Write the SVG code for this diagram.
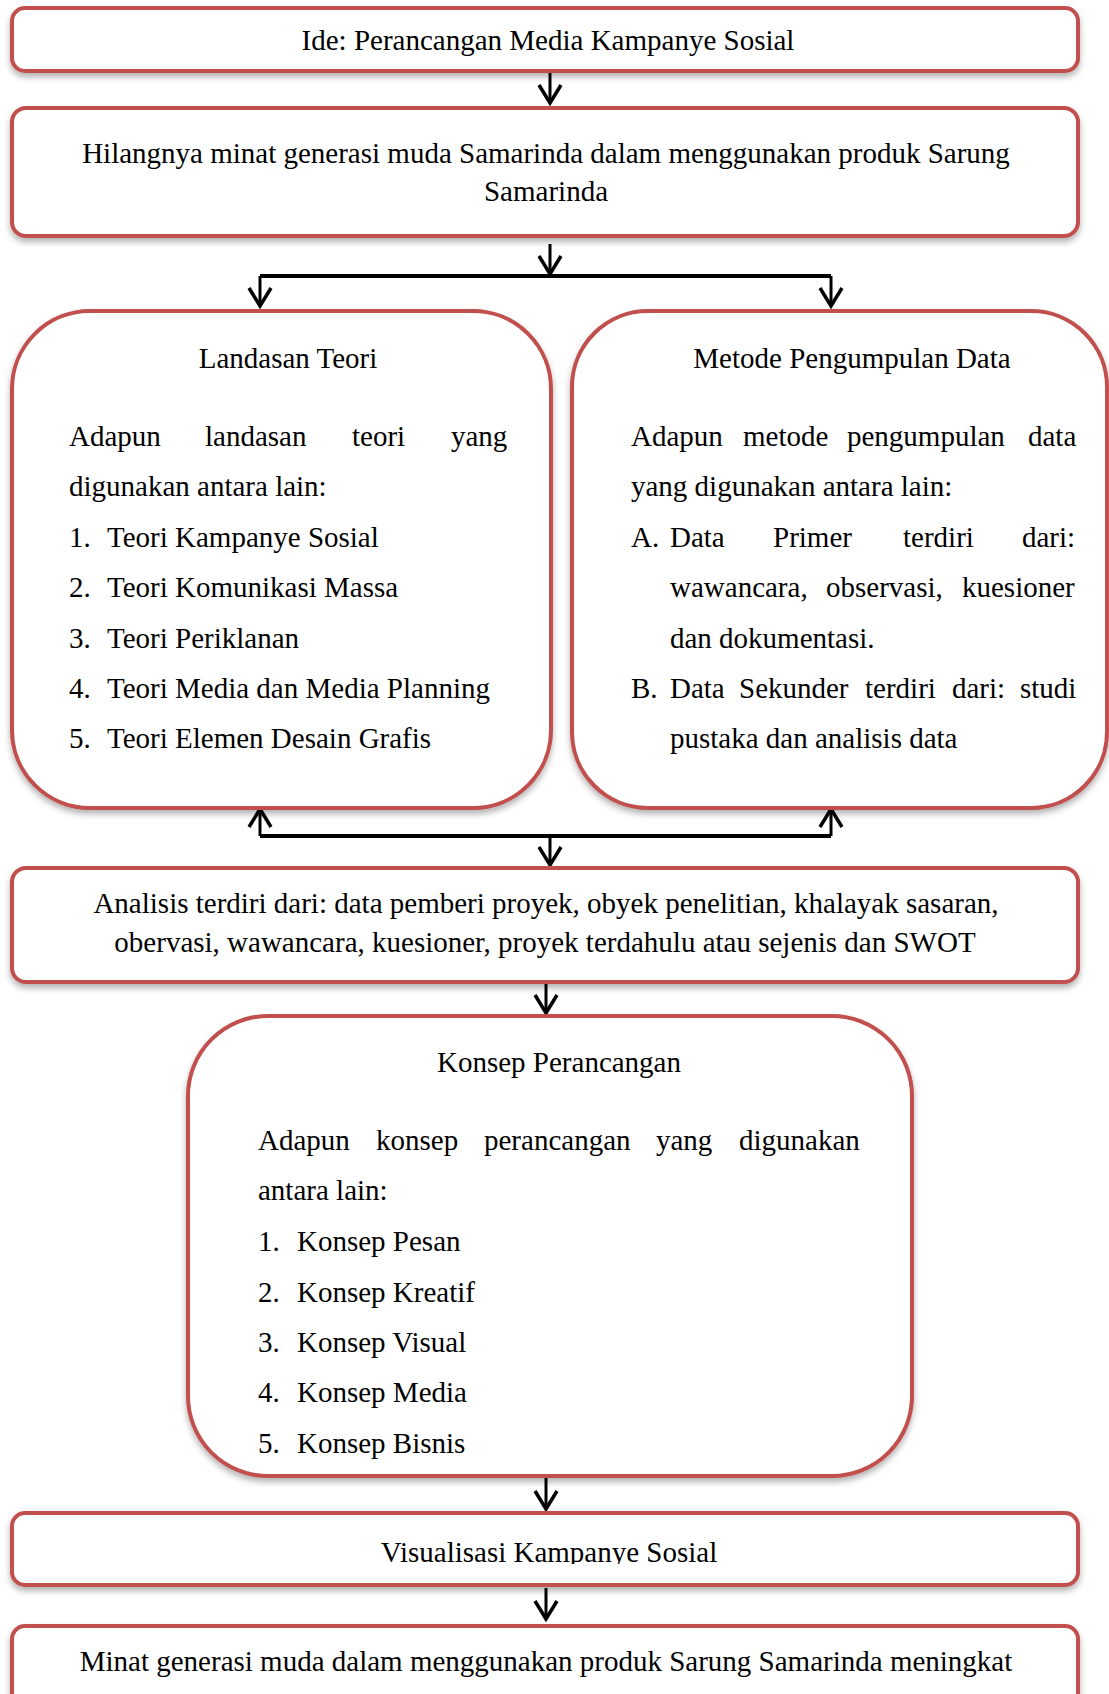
<svg xmlns="http://www.w3.org/2000/svg" width="1109" height="1694" viewBox="0 0 1109 1694">
<style>
.box{fill:#fff;stroke:#C0504D;stroke-width:4;filter:url(#sh)}
.t{font-family:"Liberation Serif","Times New Roman",serif;font-size:29px;fill:#000}
.c{text-anchor:middle}
.ln{fill:none;stroke:#000;stroke-width:3}
.bar{fill:none;stroke:#000;stroke-width:4}
</style>
<defs>
<filter id="sh" x="-5%" y="-10%" width="110%" height="130%">
<feDropShadow dx="0" dy="4" stdDeviation="3" flood-color="#000" flood-opacity="0.3"/>
</filter>
<marker id="ah" markerUnits="userSpaceOnUse" markerWidth="26" markerHeight="26" viewBox="0 0 26 26" refX="23" refY="13" orient="auto">
<path d="M5,2 L23,13 L5,24" fill="none" stroke="#000" stroke-width="3.5"/>
</marker>
<clipPath id="cv"><rect x="0" y="1500" width="1109" height="64"/></clipPath>
</defs>

<g id="connectors">
<line class="ln" x1="550" y1="72" x2="550" y2="103" marker-end="url(#ah)"/>
<line class="ln" x1="550" y1="244" x2="550" y2="274" marker-end="url(#ah)"/>
<path class="bar" d="M260,276 H831"/>
<line class="ln" x1="260" y1="276" x2="260" y2="306" marker-end="url(#ah)"/>
<line class="ln" x1="831" y1="276" x2="831" y2="306" marker-end="url(#ah)"/>
<path class="bar" d="M260,836 H831"/>
<line class="ln" x1="260" y1="836" x2="260" y2="809" marker-end="url(#ah)"/>
<line class="ln" x1="831" y1="836" x2="831" y2="809" marker-end="url(#ah)"/>
<line class="ln" x1="550" y1="836" x2="550" y2="865" marker-end="url(#ah)"/>
<line class="ln" x1="546" y1="983" x2="546" y2="1013" marker-end="url(#ah)"/>
<line class="ln" x1="546" y1="1478" x2="546" y2="1509" marker-end="url(#ah)"/>
<line class="ln" x1="546" y1="1588" x2="546" y2="1619" marker-end="url(#ah)"/>
</g>

<g id="n1">
<rect class="box" x="12" y="8" width="1066" height="63" rx="13"/>
<text class="t c" x="548" y="50">Ide: Perancangan Media Kampanye Sosial</text>
</g>

<g id="n2">
<rect class="box" x="12" y="108" width="1066" height="128" rx="14"/>
<text class="t c" x="546" y="163">Hilangnya minat generasi muda Samarinda dalam menggunakan produk Sarung</text>
<text class="t c" x="546" y="201">Samarinda</text>
</g>

<g id="n3">
<rect class="box" x="12" y="311" width="539" height="497" rx="78"/>
<text class="t c" x="288" y="368">Landasan Teori</text>
<text class="t" y="446"><tspan x="69">Adapun</tspan><tspan x="205">landasan</tspan><tspan x="352">teori</tspan><tspan x="451">yang</tspan></text>
<text class="t" x="69" y="496">digunakan antara lain:</text>
<text class="t" y="547"><tspan x="69">1.</tspan><tspan x="107">Teori Kampanye Sosial</tspan></text>
<text class="t" y="597"><tspan x="69">2.</tspan><tspan x="107">Teori Komunikasi Massa</tspan></text>
<text class="t" y="648"><tspan x="69">3.</tspan><tspan x="107">Teori Periklanan</tspan></text>
<text class="t" y="698"><tspan x="69">4.</tspan><tspan x="107">Teori Media dan Media Planning</tspan></text>
<text class="t" y="748"><tspan x="69">5.</tspan><tspan x="107">Teori Elemen Desain Grafis</tspan></text>
</g>

<g id="n4">
<rect class="box" x="572" y="311" width="535" height="497" rx="76"/>
<text class="t c" x="852" y="368">Metode Pengumpulan Data</text>
<text class="t" y="446"><tspan x="631">Adapun</tspan><tspan x="743">metode</tspan><tspan x="847">pengumpulan</tspan><tspan x="1028">data</tspan></text>
<text class="t" x="631" y="496">yang digunakan antara lain:</text>
<text class="t" y="547"><tspan x="631">A.</tspan><tspan x="670">Data</tspan><tspan x="773">Primer</tspan><tspan x="903">terdiri</tspan><tspan x="1022">dari:</tspan></text>
<text class="t" y="597"><tspan x="670">wawancara,</tspan><tspan x="826">observasi,</tspan><tspan x="962">kuesioner</tspan></text>
<text class="t" x="670" y="648">dan dokumentasi.</text>
<text class="t" y="698"><tspan x="631">B.</tspan><tspan x="670">Data</tspan><tspan x="739">Sekunder</tspan><tspan x="865">terdiri</tspan><tspan x="952">dari:</tspan><tspan x="1020">studi</tspan></text>
<text class="t" x="670" y="748">pustaka dan analisis data</text>
</g>

<g id="n5">
<rect class="box" x="12" y="868" width="1066" height="114" rx="14"/>
<text class="t c" x="546" y="913">Analisis terdiri dari: data pemberi proyek, obyek penelitian, khalayak sasaran,</text>
<text class="t c" x="545" y="952">obervasi, wawancara, kuesioner, proyek terdahulu atau sejenis dan SWOT</text>
</g>

<g id="n6">
<rect class="box" x="188" y="1016" width="724" height="460" rx="80"/>
<text class="t c" x="559" y="1072">Konsep Perancangan</text>
<text class="t" y="1150"><tspan x="258">Adapun</tspan><tspan x="376">konsep</tspan><tspan x="484">perancangan</tspan><tspan x="656">yang</tspan><tspan x="739">digunakan</tspan></text>
<text class="t" x="258" y="1200">antara lain:</text>
<text class="t" y="1251"><tspan x="258">1.</tspan><tspan x="297">Konsep Pesan</tspan></text>
<text class="t" y="1302"><tspan x="258">2.</tspan><tspan x="297">Konsep Kreatif</tspan></text>
<text class="t" y="1352"><tspan x="258">3.</tspan><tspan x="297">Konsep Visual</tspan></text>
<text class="t" y="1402"><tspan x="258">4.</tspan><tspan x="297">Konsep Media</tspan></text>
<text class="t" y="1453"><tspan x="258">5.</tspan><tspan x="297">Konsep Bisnis</tspan></text>
</g>

<g id="n7">
<rect class="box" x="12" y="1513" width="1066" height="72" rx="13"/>
<text class="t c" x="549" y="1562" clip-path="url(#cv)">Visualisasi Kampanye Sosial</text>
</g>

<g id="n8">
<rect class="box" x="12" y="1626" width="1066" height="90" rx="13"/>
<text class="t c" x="546" y="1671">Minat generasi muda dalam menggunakan produk Sarung Samarinda meningkat</text>
</g>
</svg>
